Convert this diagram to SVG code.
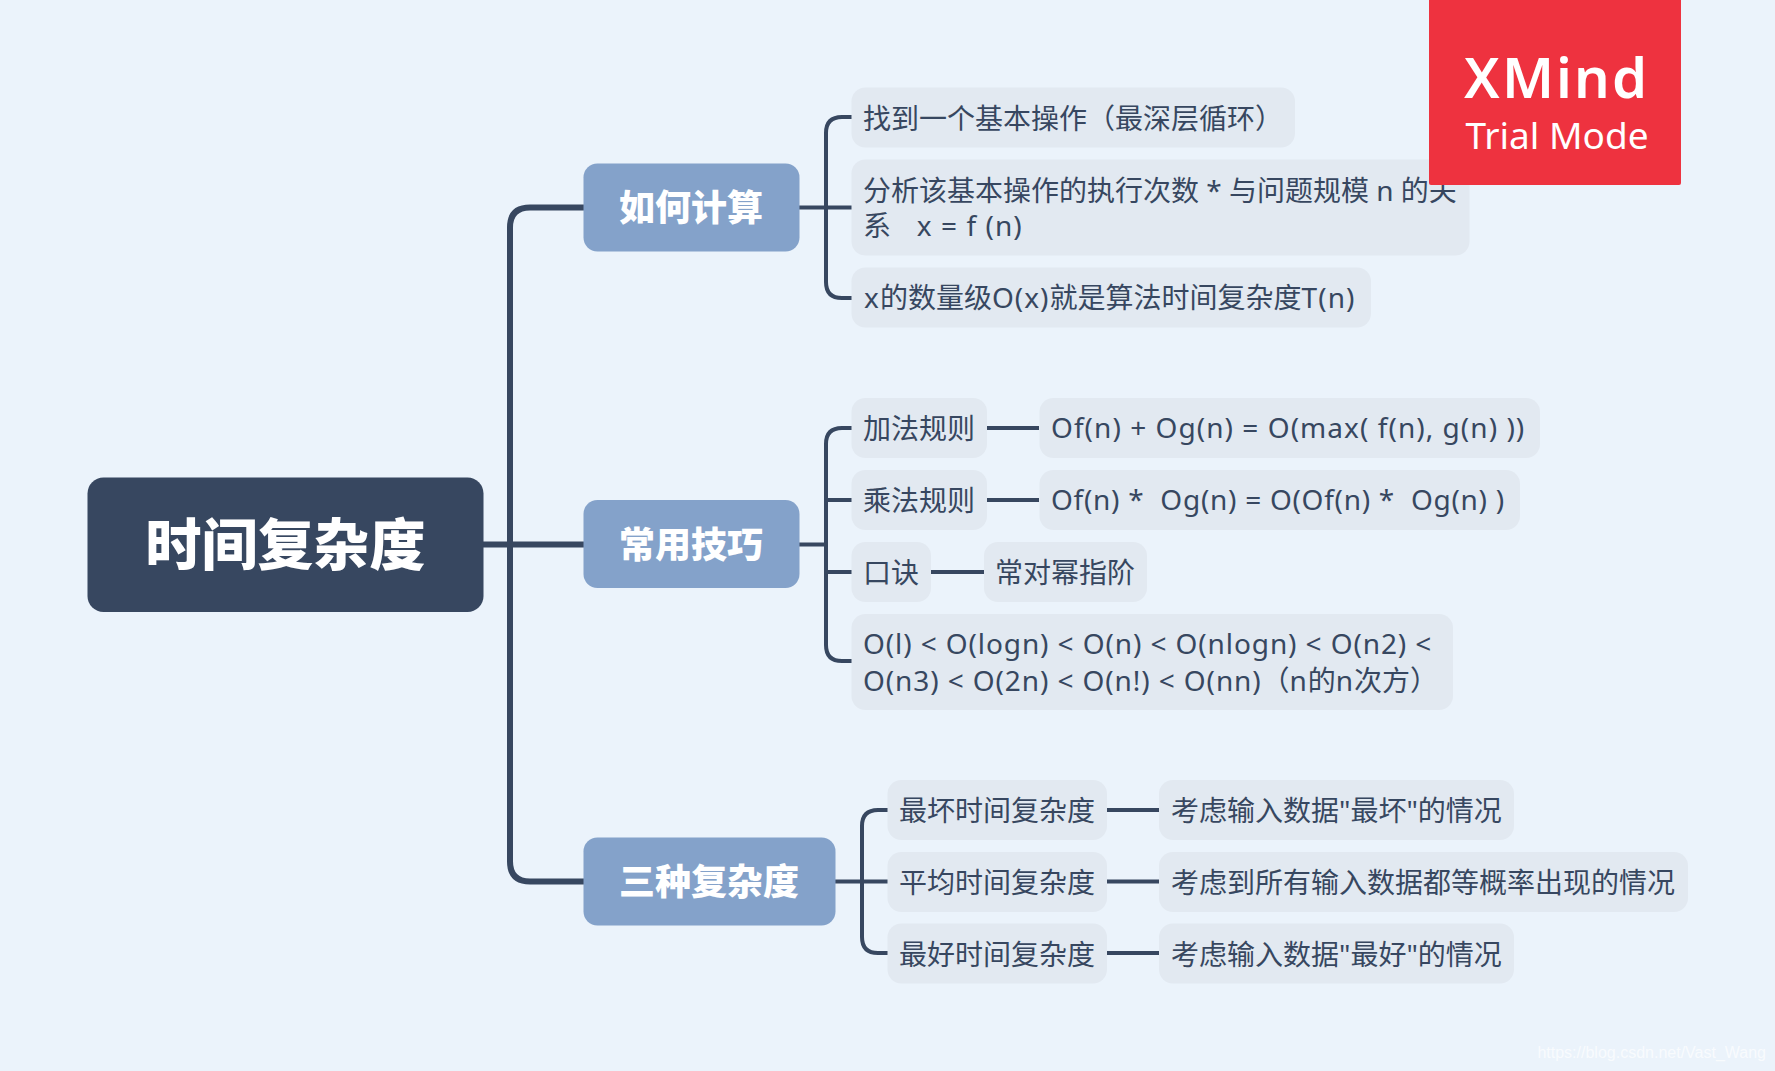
<svg xmlns="http://www.w3.org/2000/svg" width="1775" height="1071" viewBox="0 0 1775 1071">
<style>
text{font-family:"Noto Sans","Noto Sans CJK SC",sans-serif;}
.c{fill:none;stroke:#374760;stroke-linecap:butt}
.c1{stroke-width:6}.c2{stroke-width:4}
.leaf rect{fill:#e2e9f1}
.leaf text{font-size:28px;fill:#374760}
.l{letter-spacing:1.05px}
.m{letter-spacing:.9px}
.branch rect{fill:#84a2ca}
.branch text{font-size:36px;font-weight:900;fill:#fff;text-anchor:middle}
</style>
<rect width="1775" height="1071" fill="#ebf3fb"/>
<g id="connectors">
<path class="c c1" d="M483 544.500H584M584 207.500H530Q510 207.500 510 227.500V861.500Q510 881.500 530 881.500H584"/>
<path class="c c2" d="M799 207.500H852M852 117H842Q826 117 826 133V282Q826 298 842 298H852"/>
<path class="c c2" d="M799 544.500H826M852 428H842Q826 428 826 444V645Q826 661 842 661H852M826 500H852M826 572H852"/>
<path class="c c2" d="M835 881.500H888M888 810H878Q862 810 862 826V937Q862 953 878 953H888"/>
<path class="c c2" d="M987 428H1039M987 500H1039M931 572H984M1107 810H1159M1107 881.500H1159M1107 953H1159"/>
</g>
<g id="root"><rect x="87.500" y="477.500" width="396" height="134.500" rx="16" fill="#374760"/><text x="285.500" y="565" font-size="56" font-weight="900" fill="#fff" text-anchor="middle">时间复杂度</text></g>
<g id="b1" class="branch"><rect x="583.500" y="163.500" width="216" height="88" rx="14"/><text x="691" y="221">如何计算</text></g>
<g id="b2" class="branch"><rect x="583.500" y="500" width="216" height="88" rx="14"/><text x="691" y="558">常用技巧</text></g>
<g id="b3" class="branch"><rect x="583.500" y="837.500" width="252" height="88" rx="14"/><text x="709" y="895">三种复杂度</text></g>
<g id="n1" class="leaf"><rect x="851.500" y="87.500" width="443.500" height="60" rx="14"/><text x="863" y="129">找到一个基本操作（最深层循环）</text></g>
<g id="n2" class="leaf"><rect x="851.500" y="159.500" width="618" height="96" rx="14"/><text x="863" y="201" xml:space="preserve">分析该基本操作的执行次数 * 与问题规模 n 的关</text><text x="863" y="236" xml:space="preserve">系   <tspan class="l" dx="4">x = f (n)</tspan></text></g>
<g id="n3" class="leaf"><rect x="851.500" y="267.500" width="519.500" height="60" rx="14"/><text x="864" y="308"><tspan class="l">x</tspan>的数量级<tspan class="l">O(x)</tspan>就是算法时间复杂度<tspan class="l">T(n)</tspan></text></g>
<g id="n4" class="leaf"><rect x="851.500" y="398" width="135.500" height="60" rx="14"/><text x="863" y="439">加法规则</text></g>
<g id="n5" class="leaf"><rect x="1039.500" y="398" width="500.500" height="60" rx="14"/><text x="1051" y="438" class="l">Of(n) + Og(n) = O(max( f(n), g(n) ))</text></g>
<g id="n6" class="leaf"><rect x="851.500" y="470" width="135.500" height="60" rx="14"/><text x="863" y="511">乘法规则</text></g>
<g id="n7" class="leaf"><rect x="1039.500" y="470" width="480.500" height="60" rx="14"/><text x="1051" y="510" xml:space="preserve" style="letter-spacing:.72px">Of(n) *  Og(n) = O(Of(n) *  Og(n) )</text></g>
<g id="n8" class="leaf"><rect x="851.500" y="542" width="79.500" height="60" rx="14"/><text x="863" y="583">口诀</text></g>
<g id="n9" class="leaf"><rect x="984" y="542" width="163" height="60" rx="14"/><text x="995" y="583">常对幂指阶</text></g>
<g id="n10" class="leaf"><rect x="851.500" y="614" width="601.500" height="96" rx="14"/><text x="863" y="654" class="m">O(l) &lt; O(logn) &lt; O(n) &lt; O(nlogn) &lt; O(n2) &lt;</text><text x="863" y="691"><tspan class="m">O(n3) &lt; O(2n) &lt; O(n!) &lt; O(nn)</tspan>（<tspan class="m">n</tspan>的<tspan class="m">n</tspan>次方）</text></g>
<g id="n11" class="leaf"><rect x="887.500" y="780" width="219.500" height="60" rx="14"/><text x="899" y="821">最坏时间复杂度</text></g>
<g id="n12" class="leaf"><rect x="1159" y="780" width="355" height="60" rx="14"/><text x="1171" y="821">考虑输入数据"最坏"的情况</text></g>
<g id="n13" class="leaf"><rect x="887.500" y="852" width="219.500" height="60" rx="14"/><text x="899" y="893">平均时间复杂度</text></g>
<g id="n14" class="leaf"><rect x="1159" y="852" width="529" height="60" rx="14"/><text x="1171" y="893">考虑到所有输入数据都等概率出现的情况</text></g>
<g id="n15" class="leaf"><rect x="887.500" y="923.500" width="219.500" height="60" rx="14"/><text x="899" y="965">最好时间复杂度</text></g>
<g id="n16" class="leaf"><rect x="1159" y="923.500" width="355" height="60" rx="14"/><text x="1171" y="965">考虑输入数据"最好"的情况</text></g>
<g id="xmind"><rect x="1429" y="-4" width="252" height="189" rx="2" fill="#ee323f"/><text x="1555.500" y="98" font-size="56" font-weight="600" fill="#fff" text-anchor="middle" textLength="183">XMind</text><text x="1557" y="149" font-size="37" fill="#fff" text-anchor="middle">Trial Mode</text></g>
<text x="1766" y="1058" font-size="16" fill="#fff" fill-opacity=".7" text-anchor="end" style="font-family:'Liberation Sans',sans-serif">https://blog.csdn.net/Vast_Wang</text>
</svg>
